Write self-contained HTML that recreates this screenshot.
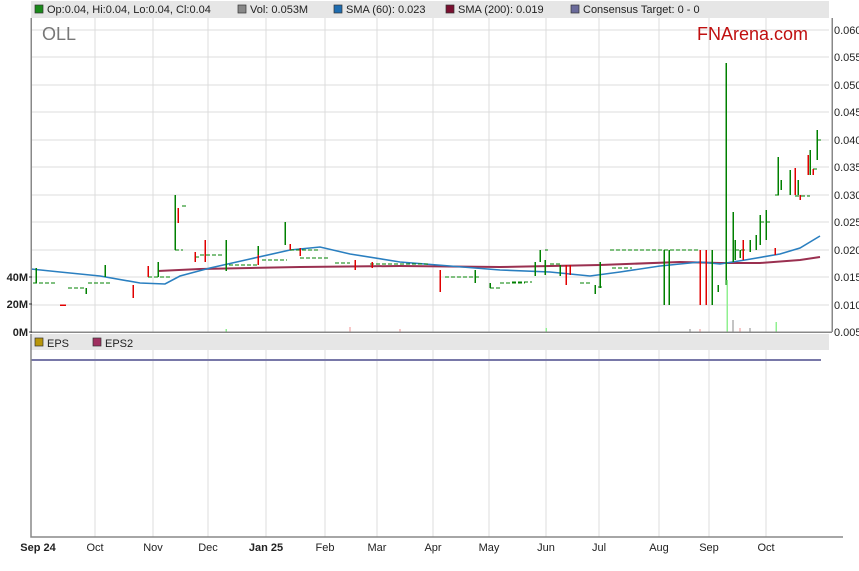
<!DOCTYPE html>
<html><head><meta charset="utf-8"><style>
body{margin:0;background:#fff;width:859px;height:566px;overflow:hidden;font-family:"Liberation Sans",sans-serif}
</style></head><body>
<svg width="859" height="566" viewBox="0 0 859 566" xmlns="http://www.w3.org/2000/svg" font-family="Liberation Sans, sans-serif">
<rect x="0" y="0" width="859" height="566" fill="#fff"/>
<rect x="31" y="1" width="798" height="17" fill="#e6e6e6"/>
<g font-size="11" fill="#222">
<rect x="35" y="5" width="8" height="8" fill="#1a8a1a" stroke="#333" stroke-width="0.7"/><text x="47" y="13">Op:0.04, Hi:0.04, Lo:0.04, Cl:0.04</text>
<rect x="238" y="5" width="8" height="8" fill="#888" stroke="#333" stroke-width="0.7"/><text x="250" y="13">Vol: 0.053M</text>
<rect x="334" y="5" width="8" height="8" fill="#1f6db0" stroke="#333" stroke-width="0.7"/><text x="346" y="13">SMA (60): 0.023</text>
<rect x="446" y="5" width="8" height="8" fill="#7a1030" stroke="#333" stroke-width="0.7"/><text x="458" y="13">SMA (200): 0.019</text>
<rect x="571" y="5" width="8" height="8" fill="#6a6a9a" stroke="#333" stroke-width="0.7"/><text x="583" y="13">Consensus Target: 0 - 0</text>
</g>
<g stroke="#dcdcdc" stroke-width="1" shape-rendering="crispEdges">
<path d="M31 30H829M31 57H829M31 85H829M31 112H829M31 140H829M31 167H829M31 195H829M31 222H829M31 250H829M31 277H829M31 305H829"/>
<path d="M95 18V332M153 18V332M208 18V332M266 18V332M325 18V332M377 18V332M433 18V332M489 18V332M546 18V332M599 18V332M659 18V332M709 18V332M766 18V332"/>
<path d="M95 350V537M153 350V537M208 350V537M266 350V537M325 350V537M377 350V537M433 350V537M489 350V537M546 350V537M599 350V537M659 350V537M709 350V537M766 350V537"/>
</g>
<text x="42" y="40" font-size="18" fill="#777">OLL</text>
<text x="808" y="40" font-size="18" fill="#c01010" text-anchor="end">FNArena.com</text>
<polyline fill="none" stroke="#9a3050" stroke-width="2" points="158,271 200,269 250,268 300,267 400,266 500,267 600,265 680,262 720,263 760,263 800,260 820,257"/>
<polyline fill="none" stroke="#2a7fc0" stroke-width="1.6" points="31,269 60,272 100,276 140,283 165,284 180,276 210,268 250,259 290,250 320,247 350,254 400,262 450,266 500,270 550,272 590,276 620,272 660,266 700,262 720,264 745,260 780,254 800,248 820,236"/>
<g shape-rendering="crispEdges">
<path fill="none" stroke="#008000" stroke-width="1" stroke-dasharray="4 2" d="M33 283h24M68 288h18M88 283h24M148 277h12M160 277h10M175 250h8M182 206h5M195 257h5M200 255h22M229 265h28M262 260h25M290 250h30M300 258h30M335 263h15M370 264h60M445 277h35M490 288h12M500 283h25M512 282h20M545 250h3M550 264h10M580 283h10M598 287h5M610 250h90M612 268h20M735 250h10M760 222h10M775 195h5M795 196h15M813 169h5M818 140h3"/>
<path fill="none" stroke="#008000" stroke-width="1.5" d="M36 268V283M86 288V294M105 265V277M158 262V277M175 195V250M226 240V271M258 246V262M285 222V245M475 270V283M490 283V288M535 262V276M540 250V262M545 260V275M560 265V276M595 285V294M600 262V288M664 250V305M669 250V305M712 250V305M718 285V292M726 63V285M733 212V262M735 240V260M740 250V258M750 240V252M756 235V250M760 215V245M766 210V240M778 157V195M781 180V190M790 170V195M798 180V195M810 150V175M817 130V160"/>
<path fill="none" stroke="#e00000" stroke-width="1.5" d="M60 305h6M133 285V298M148 266V277M178 208V223M195 252V262M205 240V262M258 255V265M290 244V250M300 248V256M355 260V270M372 262V268M440 270V292M566 265V285M570 265V275M700 250V305M706 250V305M743 240V260M775 248V255M795 168V195M800 195V200M808 155V175M813 169V175"/>
<path stroke="#90f090" stroke-width="1.5" d="M727 280V332M776 322V332M546 328V332M226 329V332"/>
<path stroke="#f09090" stroke-width="1.2" d="M350 327V332M400 329V332M700 329V332M740 328V332"/>
<path stroke="#888" stroke-width="1" d="M733 320V332M690 329V332M750 328V332"/>
<path stroke="#888" stroke-width="1.5" fill="none" d="M31 18V332H832M832 18V332"/>
</g>
<g font-size="11" fill="#222">
<text x="834" y="34">0.060</text><text x="834" y="61">0.055</text><text x="834" y="89">0.050</text><text x="834" y="116">0.045</text><text x="834" y="144">0.040</text><text x="834" y="171">0.035</text><text x="834" y="199">0.030</text><text x="834" y="226">0.025</text><text x="834" y="254">0.020</text><text x="834" y="281">0.015</text><text x="834" y="309">0.010</text><text x="834" y="336">0.005</text>
</g>
<g font-size="11" fill="#222" font-weight="bold" text-anchor="end">
<text x="28" y="281">40M</text><text x="28" y="308">20M</text><text x="28" y="336">0M</text>
</g>
<path stroke="#333" d="M29 277h3M29 304h3M29 332h3"/>
<rect x="31" y="334" width="798" height="16" fill="#e6e6e6"/>
<rect x="35" y="338" width="8" height="8" fill="#b8960a" stroke="#333" stroke-width="0.7"/><text x="47" y="347" font-size="11" fill="#222">EPS</text>
<rect x="93" y="338" width="8" height="8" fill="#a03060" stroke="#333" stroke-width="0.7"/><text x="105" y="347" font-size="11" fill="#222">EPS2</text>
<path stroke="#7878a8" stroke-width="2" d="M31 360H821"/>
<path stroke="#888" stroke-width="1.5" fill="none" d="M31 334V537H843"/>
<g font-size="11" fill="#222" text-anchor="middle">
<text x="38" y="551" font-weight="bold">Sep 24</text><text x="95" y="551">Oct</text><text x="153" y="551">Nov</text><text x="208" y="551">Dec</text><text x="266" y="551" font-weight="bold">Jan 25</text><text x="325" y="551">Feb</text><text x="377" y="551">Mar</text><text x="433" y="551">Apr</text><text x="489" y="551">May</text><text x="546" y="551">Jun</text><text x="599" y="551">Jul</text><text x="659" y="551">Aug</text><text x="709" y="551">Sep</text><text x="766" y="551">Oct</text>
</g>
</svg>
</body></html>
